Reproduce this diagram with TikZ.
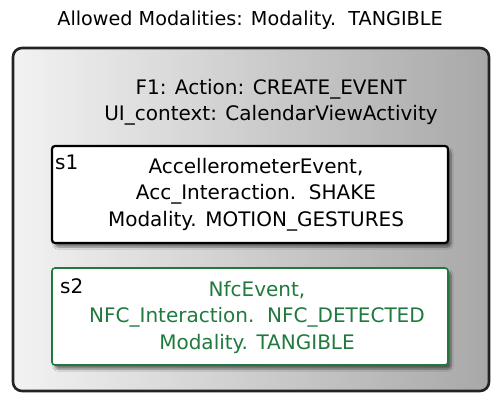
\documentclass[tikz,border=0pt]{standalone}
\usepackage{fontspec}
\setmainfont{DejaVu Sans}
\usetikzlibrary{shadows.blur}
\definecolor{nfcgreen}{RGB}{32,122,62}
\definecolor{boxedge}{RGB}{35,35,35}
\tikzset{
  txt/.style={font=\fontsize{20}{26.5}\selectfont, inner sep=0pt, align=center},
  outerbox/.style={draw=boxedge, line width=2.6pt, rounded corners=9pt,
    left color=white!95!black, right color=black!34},
  statebox/.style={line width=2.2pt, rounded corners=3pt, fill=white,
    blur shadow={shadow xshift=3pt, shadow yshift=-4pt, shadow blur steps=6, shadow opacity=50}},
}
\begin{document}
\begin{tikzpicture}[x=1pt, y=-1pt]
  \useasboundingbox (0,0) rectangle (492,393);
  % allowed modalities caption
  \node[txt, font=\fontsize{19.2}{25}\selectfont, anchor=base] (title) at (250,26) {Allowed Modalities: Modality.\ \ TANGIBLE};
  % feature frame
  \draw[outerbox] (13,48) rectangle (489,391);
  \node[txt, anchor=base] (f1) at (271,121) {F1: Action: CREATE\_EVENT\\UI\_context: CalendarViewActivity};
  % state s1
  \draw[statebox, draw=black] (52,146) rectangle (448,243);
  \node[txt, anchor=base west] (s1lab) at (55,169) {s1};
  \node[txt, anchor=base] (s1txt) at (256,226) {AccellerometerEvent,\\Acc\_Interaction.\ \ SHAKE\\Modality. MOTION\_GESTURES};
  % state s2
  \draw[statebox, draw=nfcgreen, line width=1.6pt] (52,268) rectangle (448,365);
  \node[txt, anchor=base west] (s2lab) at (60,293) {s2};
  \node[txt, anchor=base, text=nfcgreen] (s2txt) at (257,349) {NfcEvent,\\NFC\_Interaction.\ \ NFC\_DETECTED\\Modality. TANGIBLE};
\end{tikzpicture}
\end{document}
